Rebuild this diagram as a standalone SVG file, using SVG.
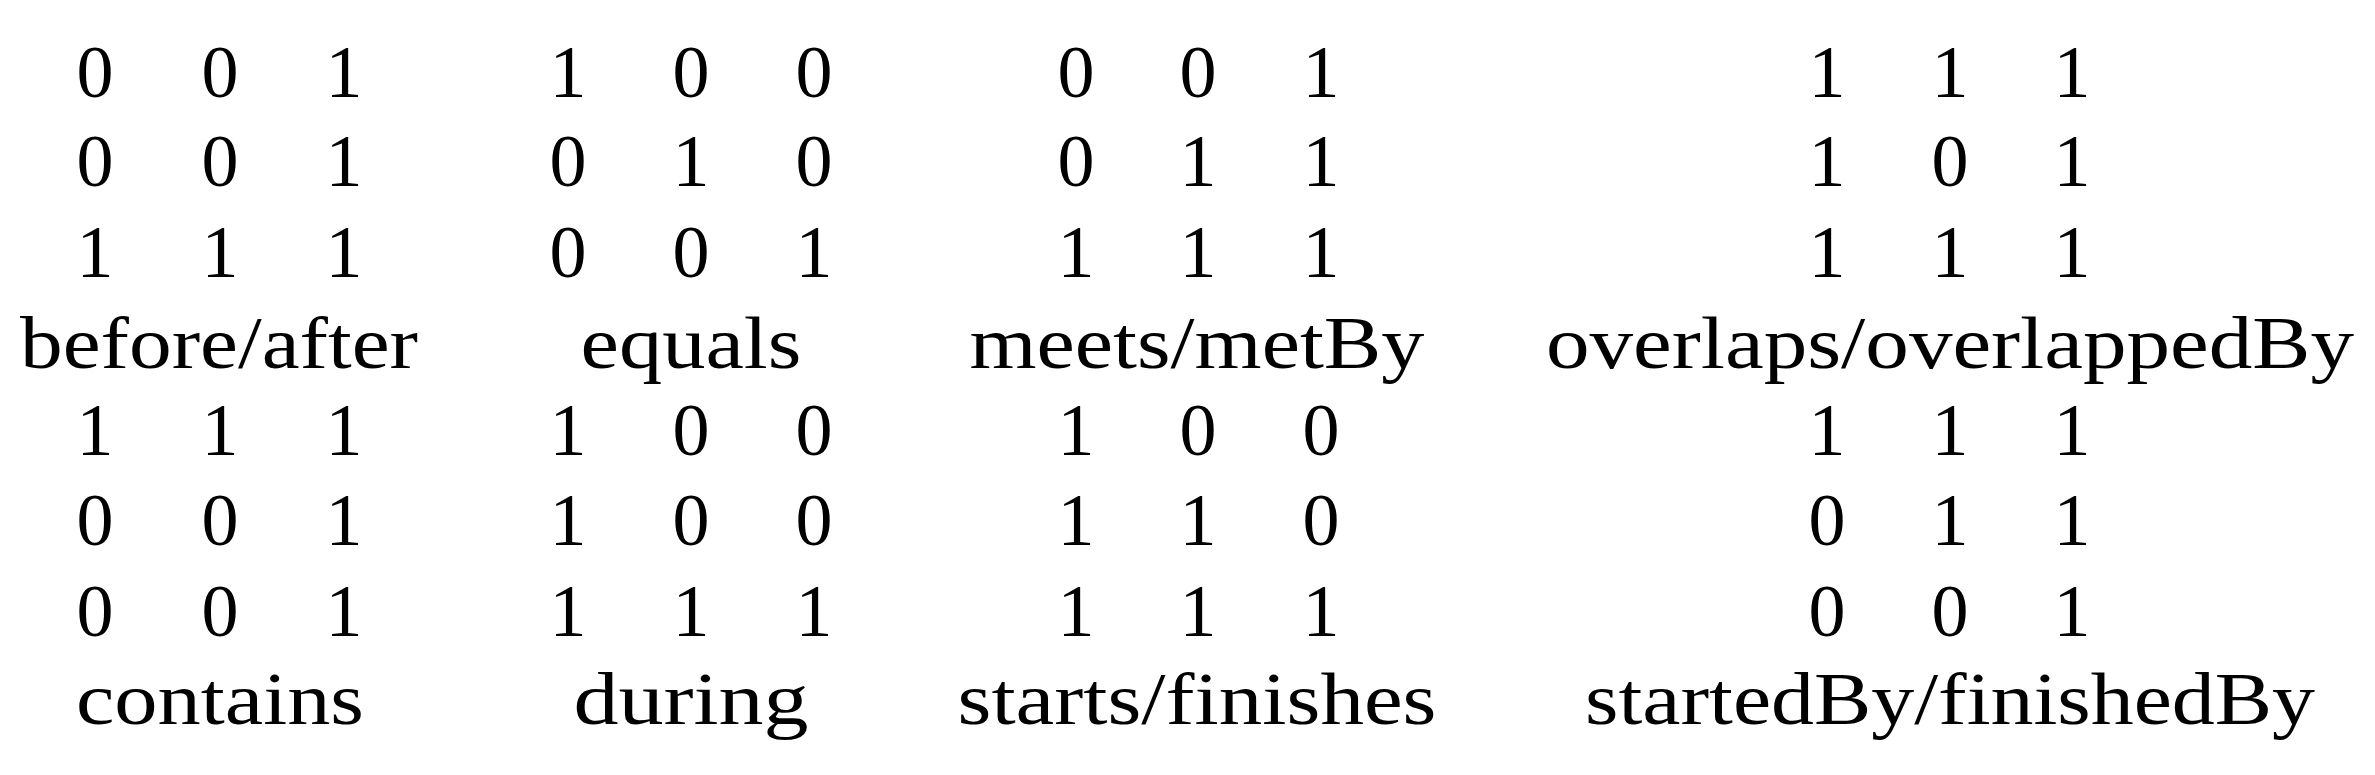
<svg xmlns="http://www.w3.org/2000/svg" width="2375" height="775" viewBox="0 0 2375 775">
<style>
text{font-family:"Liberation Serif","DejaVu Serif",serif;font-size:74px;fill:#000;text-anchor:middle}
</style>
<rect width="2375" height="775" fill="#fff"/>
<g id="m1">
<text x="95" y="97">0</text><text x="220" y="97">0</text><text x="344" y="97">1</text>
<text x="95" y="186">0</text><text x="220" y="186">0</text><text x="344" y="186">1</text>
<text x="95" y="277">1</text><text x="220" y="277">1</text><text x="344" y="277">1</text>
<text x="219" y="368" textLength="398" lengthAdjust="spacingAndGlyphs">before/after</text>
</g>
<g id="m2">
<text x="568" y="97">1</text><text x="691" y="97">0</text><text x="814" y="97">0</text>
<text x="568" y="186">0</text><text x="691" y="186">1</text><text x="814" y="186">0</text>
<text x="568" y="277">0</text><text x="691" y="277">0</text><text x="814" y="277">1</text>
<text x="691" y="368" textLength="221" lengthAdjust="spacingAndGlyphs">equals</text>
</g>
<g id="m3">
<text x="1076" y="97">0</text><text x="1198" y="97">0</text><text x="1321" y="97">1</text>
<text x="1076" y="186">0</text><text x="1198" y="186">1</text><text x="1321" y="186">1</text>
<text x="1076" y="277">1</text><text x="1198" y="277">1</text><text x="1321" y="277">1</text>
<text x="1197" y="368" textLength="455" lengthAdjust="spacingAndGlyphs">meets/metBy</text>
</g>
<g id="m4">
<text x="1827" y="97">1</text><text x="1950" y="97">1</text><text x="2072" y="97">1</text>
<text x="1827" y="186">1</text><text x="1950" y="186">0</text><text x="2072" y="186">1</text>
<text x="1827" y="277">1</text><text x="1950" y="277">1</text><text x="2072" y="277">1</text>
<text x="1950" y="368" textLength="808" lengthAdjust="spacingAndGlyphs">overlaps/overlappedBy</text>
</g>
<g id="m5">
<text x="95" y="455">1</text><text x="220" y="455">1</text><text x="344" y="455">1</text>
<text x="95" y="545">0</text><text x="220" y="545">0</text><text x="344" y="545">1</text>
<text x="95" y="636">0</text><text x="220" y="636">0</text><text x="344" y="636">1</text>
<text x="220" y="724" textLength="288" lengthAdjust="spacingAndGlyphs">contains</text>
</g>
<g id="m6">
<text x="568" y="455">1</text><text x="691" y="455">0</text><text x="814" y="455">0</text>
<text x="568" y="545">1</text><text x="691" y="545">0</text><text x="814" y="545">0</text>
<text x="568" y="636">1</text><text x="691" y="636">1</text><text x="814" y="636">1</text>
<text x="691" y="724" textLength="235" lengthAdjust="spacingAndGlyphs">during</text>
</g>
<g id="m7">
<text x="1076" y="455">1</text><text x="1198" y="455">0</text><text x="1321" y="455">0</text>
<text x="1076" y="545">1</text><text x="1198" y="545">1</text><text x="1321" y="545">0</text>
<text x="1076" y="636">1</text><text x="1198" y="636">1</text><text x="1321" y="636">1</text>
<text x="1197" y="724" textLength="479" lengthAdjust="spacingAndGlyphs">starts/finishes</text>
</g>
<g id="m8">
<text x="1827" y="455">1</text><text x="1950" y="455">1</text><text x="2072" y="455">1</text>
<text x="1827" y="545">0</text><text x="1950" y="545">1</text><text x="2072" y="545">1</text>
<text x="1827" y="636">0</text><text x="1950" y="636">0</text><text x="2072" y="636">1</text>
<text x="1950" y="724" textLength="730" lengthAdjust="spacingAndGlyphs">startedBy/finishedBy</text>
</g>
<g id="connectors"/>
</svg>
